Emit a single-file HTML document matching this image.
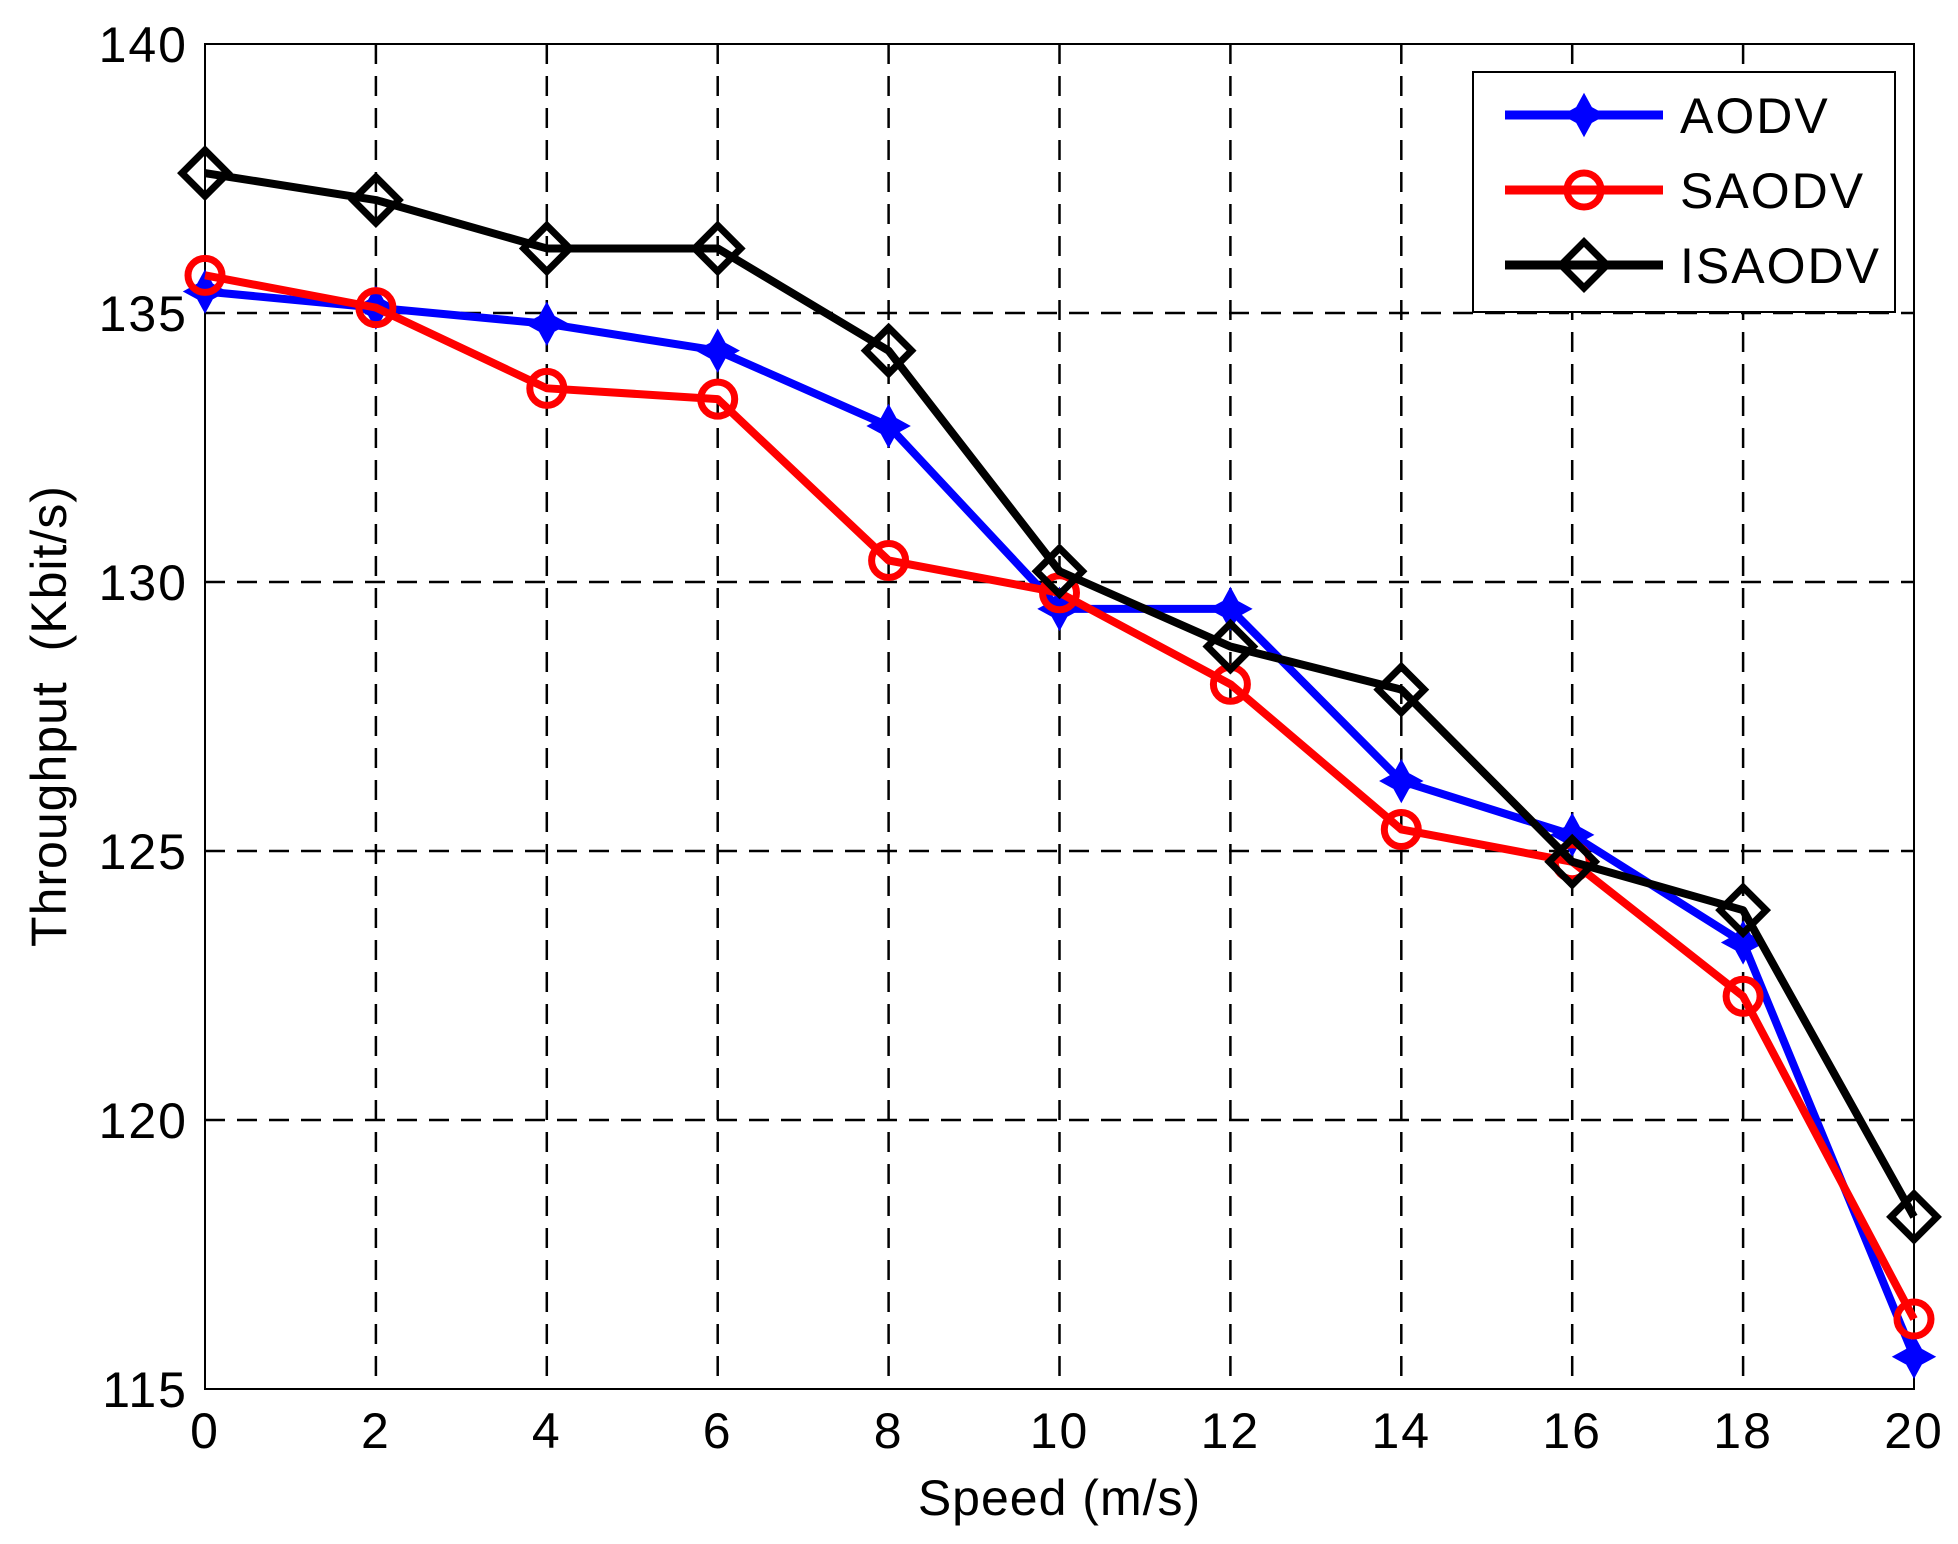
<!DOCTYPE html>
<html><head><meta charset="utf-8"><style>
html,body{margin:0;padding:0;background:#fff;}
svg{display:block;font-family:"Liberation Sans",sans-serif;}
</style></head><body>
<svg id="chart" width="1958" height="1544" viewBox="0 0 1958 1544" xmlns="http://www.w3.org/2000/svg">
<rect width="1958" height="1544" fill="#fff"/>
<g id="grid"></g>
<g id="axes"></g>
<g id="series"></g>
<g id="legend"></g>
</svg>
<script>
const xTicks = [0,2,4,6,8,10,12,14,16,18,20];
const yTicks = [115,120,125,130,135,140];
const speeds = [0,2,4,6,8,10,12,14,16,18,20];
const aodv = [135.4,135.1,134.8,134.3,132.9,129.5,129.5,126.3,125.3,123.3,115.6];
const saodv = [135.7,135.1,133.6,133.4,130.4,129.8,128.1,125.4,124.8,122.3,116.3];
const isaodv = [137.6,137.1,136.2,136.2,134.3,130.2,128.8,128.0,124.8,123.9,118.2];
const seriesNames = ["AODV","SAODV","ISAODV"];

const L=205,R=1914,T=44,B=1389;
const xs=v=>L+(v-0)/(20-0)*(R-L);
const ys=v=>B-(v-115)/(140-115)*(B-T);
const NS="http://www.w3.org/2000/svg";
function mk(tag,attrs,parent){const e=document.createElementNS(NS,tag);for(const k in attrs)e.setAttribute(k,attrs[k]);parent.appendChild(e);return e;}
const grid=document.getElementById('grid'),axes=document.getElementById('axes'),ser=document.getElementById('series'),leg=document.getElementById('legend');

xTicks.forEach(t=>{
  if(t>0&&t<20){const g=mk('line',{x1:xs(t),x2:xs(t),y1:T,y2:B,stroke:'#000','stroke-width':2.5,'stroke-dasharray':'20 12'},grid);
  
  }
  const lb=mk('text',{x:xs(t),y:1448,'font-size':50,'text-anchor':'middle','letter-spacing':2},axes);lb.textContent=t;
  
  
});
yTicks.forEach(t=>{
  if(t>115&&t<140){const g=mk('line',{x1:L,x2:R,y1:ys(t),y2:ys(t),stroke:'#000','stroke-width':2.5,'stroke-dasharray':'20 12'},grid);
  
  }
  const lb=mk('text',{x:188,y:ys(t)+18,'font-size':50,'text-anchor':'end','letter-spacing':2},axes);lb.textContent=t;
  
  
});
const frame=mk('rect',{x:L,y:T,width:R-L,height:B-T,fill:'none',stroke:'#000','stroke-width':2},axes);


const xl=mk('text',{x:(L+R)/2,y:1515,'font-size':50,'text-anchor':'middle','letter-spacing':1},axes);xl.textContent='Speed (m/s)';


const yl=mk('text',{x:0,y:0,'font-size':50,'text-anchor':'middle',style:'white-space:pre','letter-spacing':1,transform:'translate(66,716) rotate(-90)'},axes);yl.textContent='Throughput  (Kbit/s)';



function marker(kind,x,y,parent){
  let m;
  if(kind==='plus'){
    m=mk('path',{d:`M${x} ${y-17}L${x+6} ${y-6}L${x+17} ${y}L${x+6} ${y+6}L${x} ${y+17}L${x-6} ${y+6}L${x-17} ${y}L${x-6} ${y-6}Z`,fill:'#0000ff',stroke:'#0000ff','stroke-width':5},parent);
  }else if(kind==='circle'){
    m=mk('circle',{cx:x,cy:y,r:17,fill:'none',stroke:'#ff0000','stroke-width':7},parent);
  }else{
    m=mk('path',{d:`M${x} ${y-23}L${x+23} ${y}L${x} ${y+23}L${x-23} ${y}Z`,fill:'none',stroke:'#000','stroke-width':7},parent);
  }
  return m;
}
const defs=[[aodv,'#0000ff','plus'],[saodv,'#ff0000','circle'],[isaodv,'#000000','diamond']];
defs.forEach((d,i)=>{
  const g=mk('g',{},ser);
  
  
  const pts=d[0].map((v,j)=>xs(speeds[j])+','+ys(v)).join(' ');
  const pl=mk('polyline',{points:pts,fill:'none',stroke:d[1],'stroke-width':8,'stroke-linejoin':'round'},g);
  
  
  d[0].forEach((v,j)=>{const m=marker(d[2],xs(speeds[j]),ys(v),g);
    
    });
});
const lb=mk('rect',{x:1473,y:72,width:422,height:240,fill:'#fff',stroke:'#000','stroke-width':2},leg);


defs.forEach((d,i)=>{
  const y=115+i*75;
  const g=mk('g',{},leg);
  
  
  mk('line',{x1:1505,x2:1663,y1:y,y2:y,stroke:d[1],'stroke-width':9},g);
  marker(d[2],1584,y,g);
  const t=mk('text',{x:1680,y:y+18,'font-size':50,'letter-spacing':2},g);t.textContent=seriesNames[i];
});
</script>
</body></html>
